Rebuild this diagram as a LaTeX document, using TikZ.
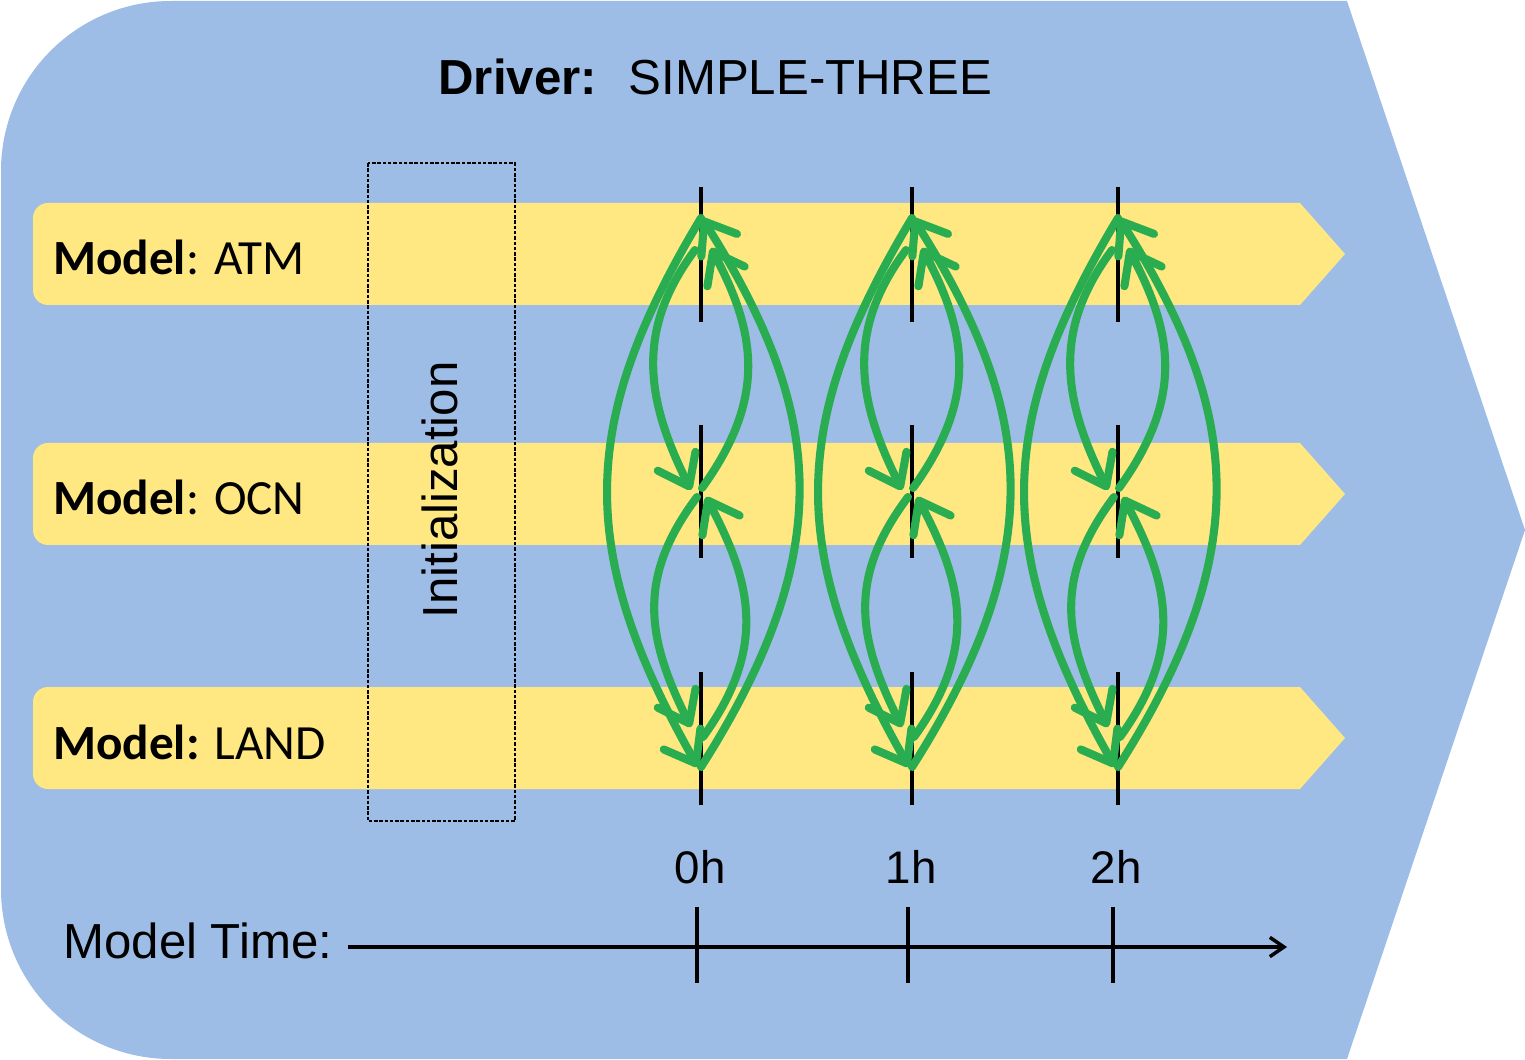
\documentclass[tikz,border=0pt]{standalone}
\usepackage{fontspec}
\setmainfont{Liberation Sans}
\newfontfamily\calibri{Carlito}
\usepackage{tikz}
\usetikzlibrary{positioning, calc, arrows.meta}

\definecolor{drvblue}{RGB}{157,189,230}
\definecolor{bandyellow}{RGB}{255,232,130}
\definecolor{cplgreen}{RGB}{42,173,80}

\begin{document}
\begin{tikzpicture}[x=0.02cm, y=-0.02cm,
  band/.style={fill=bandyellow},
  model/.style={font=\calibri\fontsize{28}{30}\selectfont, anchor=base west, inner sep=0pt},
  txt/.style={font=\fontsize{28}{30}\selectfont, inner sep=0pt},
  hour/.style={font=\fontsize{26}{28}\selectfont, anchor=base, inner sep=0pt},
  ticker/.style={line width=2.8pt},
  flow/.style={cplgreen, line width=4.6pt, line cap=round,
    -{Straight Barb[length=16pt,width=24pt,round]}}]

\useasboundingbox (0,0) rectangle (1525,1060);

\fill[drvblue] (1,171) to[out=90,in=180] (171,1) -- (1347,1) -- (1525,530)
  -- (1347,1059) -- (171,1059) to[out=180,in=-90] (1,889) -- cycle;

\node[txt, anchor=base west] (driver) at (438,95) {{\bfseries Driver:}\hspace{18pt}SIMPLE-THREE};

\foreach \t in {203,443,687}
  \fill[band] (1300,\t) -- (48,\t) to[out=180,in=90] (33,\t+15) -- (33,\t+87)
    to[out=-90,in=180] (48,\t+102) -- (1300,\t+102) -- (1345,\t+51) -- cycle;

\node[model] (atm) at (53,275) {\textbf{Model}: ATM};
\node[model] (ocn) at (53,515) {\textbf{Model}: OCN};
\node[model] (land) at (53,759) {\textbf{Model:} LAND};

\draw[line width=0.8pt, dash pattern=on 2pt off 1pt] (368,163) rectangle (515,821);
\node[txt, rotate=90, anchor=base] (init) at (457,490) {Initialization};

% model time axis
\node[txt, anchor=base west] (time) at (63,958) {Model Time:};
\coordinate (tstart) at (348,947);
\coordinate (tend) at (1287,947);
\draw[line width=2pt, -{Straight Barb[length=8pt,width=11pt]}] (tstart) -- (tend);
\foreach \x/\h [count=\i from 0] in {697/0h,908/1h,1113/2h} {
  \draw[line width=2.4pt] (\x,907) -- (\x,983);
  \node[hour] (h\i) at (\x+3,883) {\h};
}

% coupling at each step
\foreach \x [count=\i from 0] in {701,912,1118} {
  \coordinate (a\i) at (\x,218);
  \coordinate (o\i) at (\x,492);
  \coordinate (l\i) at (\x,767);
  \draw[ticker] (\x,187) -- (\x,322) (\x,425) -- (\x,558) (\x,672) -- (\x,805);
  \draw[flow] ($(a\i)+(-6,32)$) .. controls +(-60,80) and +(-45,-90) .. ($(o\i)+(-10,-2)$);
  \draw[flow] ($(o\i)+(1,-4)$) .. controls +(65,-90) and +(45,85) .. ($(a\i)+(10,30)$);
  \draw[flow] ($(o\i)+(-4,5)$) .. controls +(-60,80) and +(-45,-90) .. ($(l\i)+(-10,-40)$);
  \draw[flow] ($(l\i)+(2,-30)$) .. controls +(65,-90) and +(45,85) .. ($(o\i)+(5,5)$);
  \draw[flow] (a\i) .. controls +(-120,200) and +(-125,-220) .. ($(l\i)+(-3,0)$);
  \draw[flow] (l\i) .. controls +(140,-220) and +(120,190) .. ($(a\i)+(1,0)$);
}

\end{tikzpicture}
\end{document}
